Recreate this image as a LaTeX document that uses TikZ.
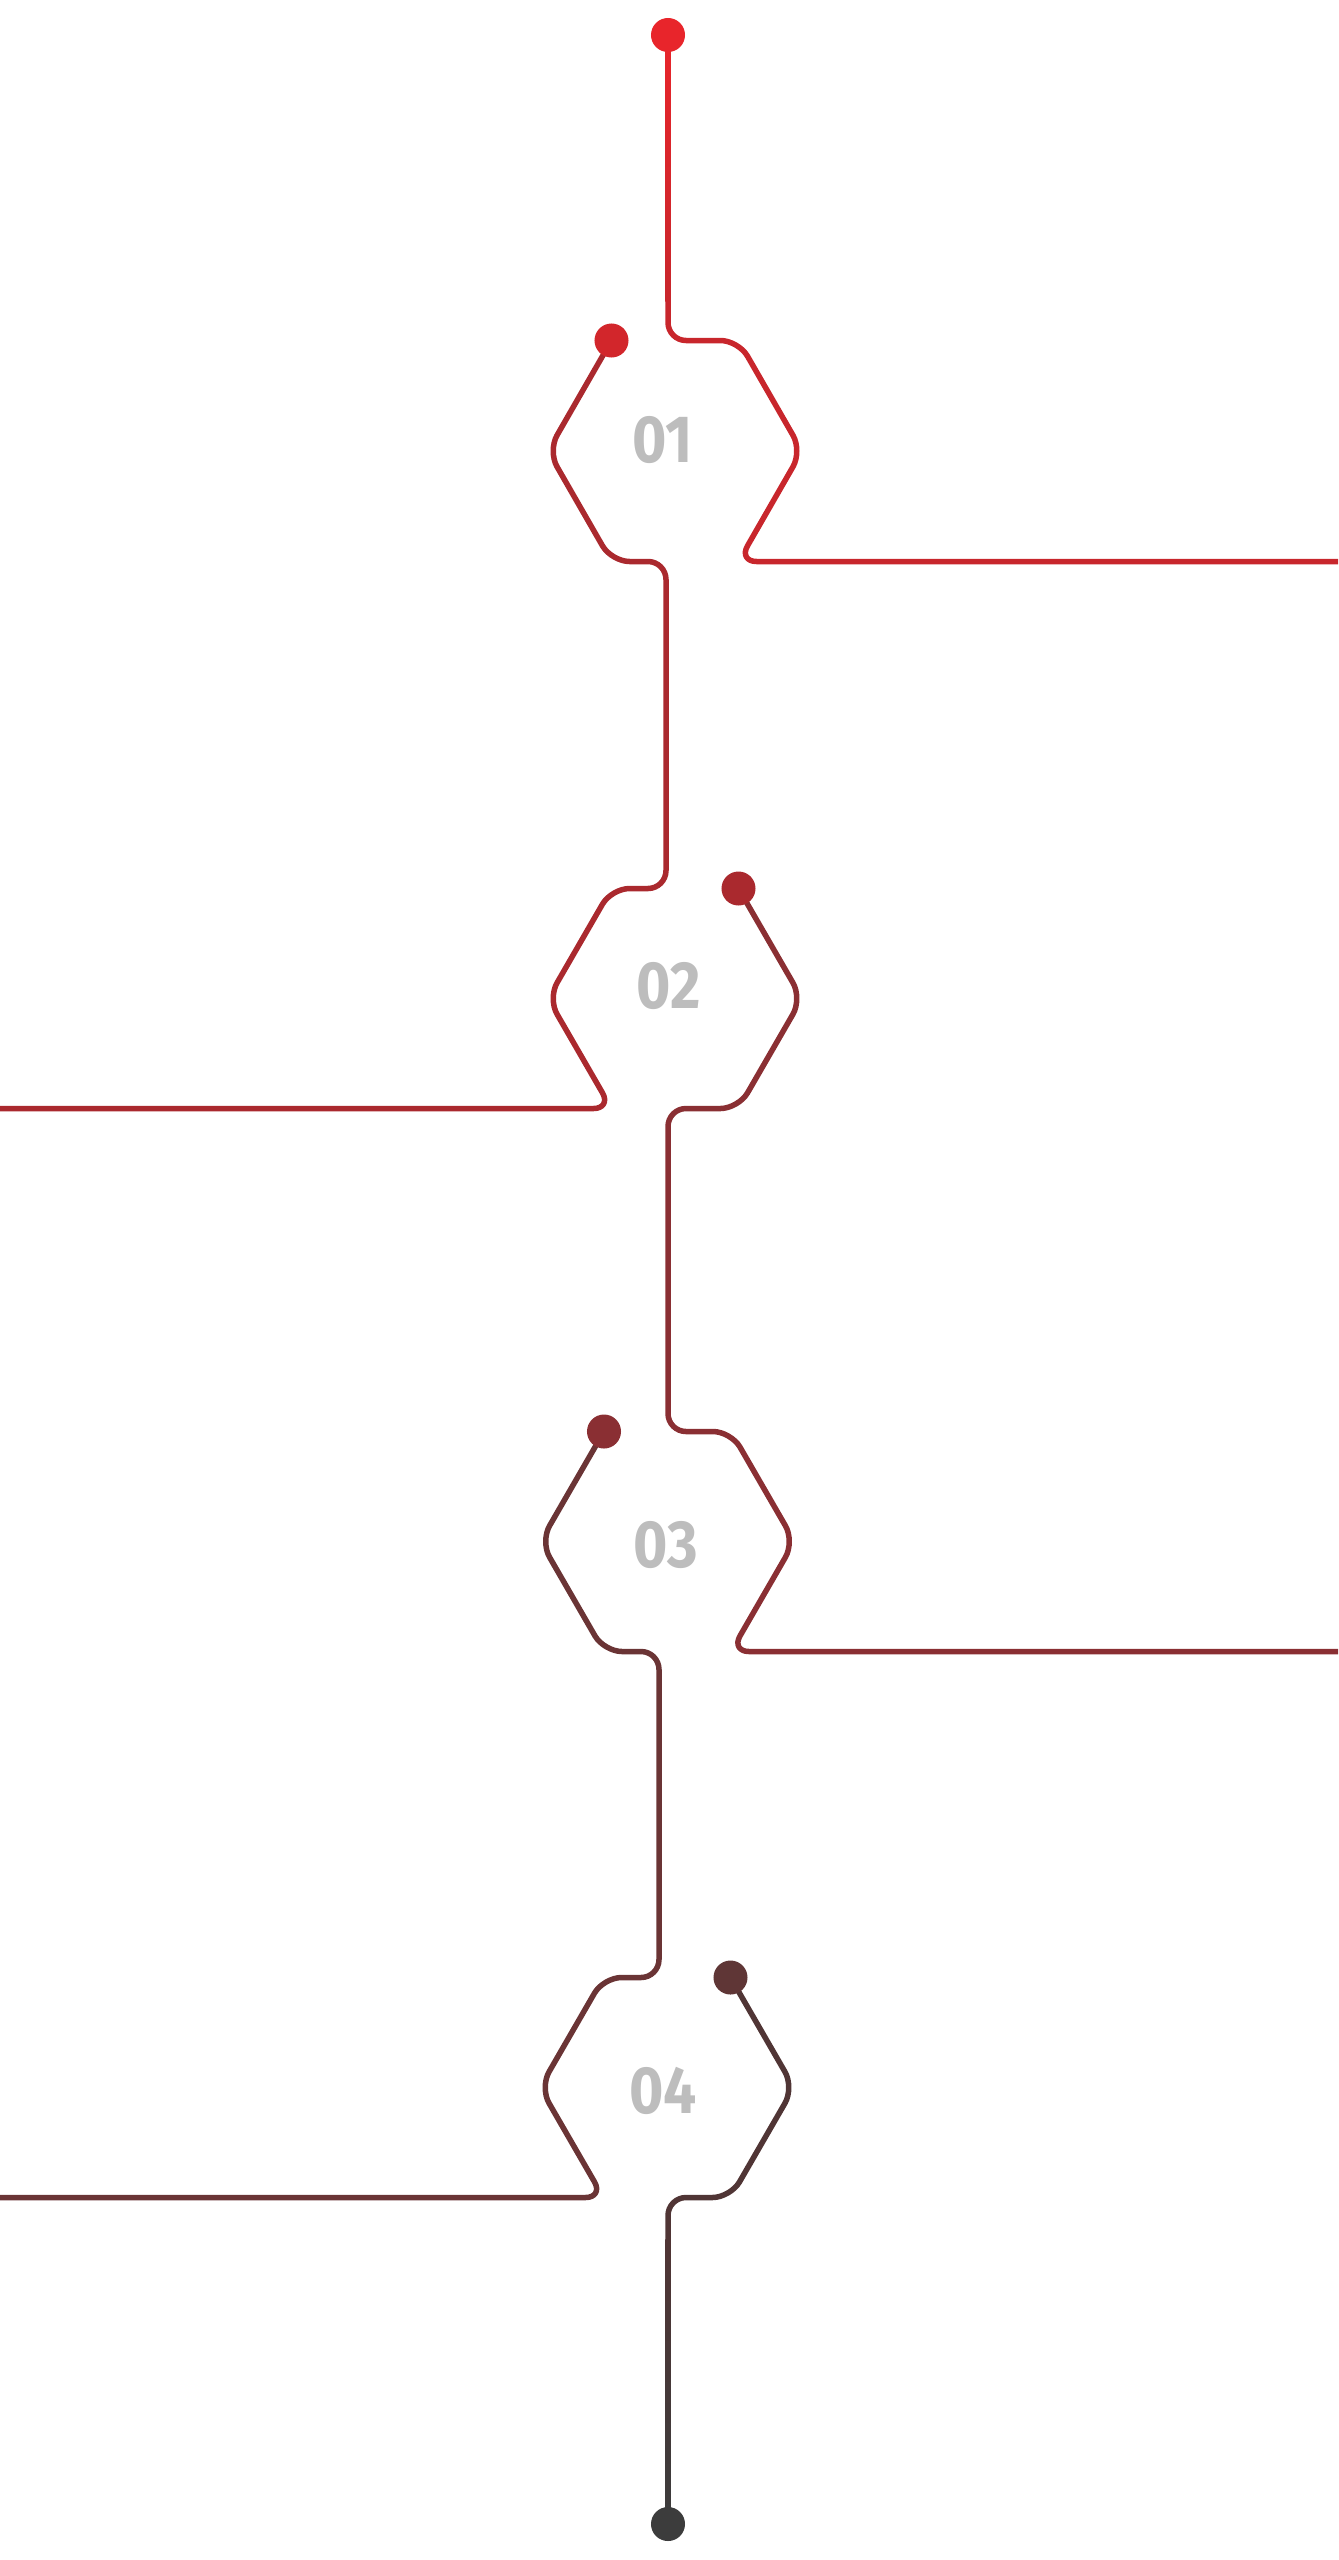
\documentclass[tikz,border=0pt]{standalone}
\usepackage{fontspec}
\newfontfamily\numfont{Fira Sans}[FakeStretch=0.88]
\usetikzlibrary{calc}
\definecolor{redA}{HTML}{E8252B}
\definecolor{redB}{HTML}{C8262C}
\definecolor{redC}{HTML}{AA292E}
\definecolor{redD}{HTML}{8A2F33}
\definecolor{redE}{HTML}{6A3435}
\definecolor{redF}{HTML}{503535}
\definecolor{greyG}{HTML}{3C3C3C}
\definecolor{pinB}{HTML}{D2262B}
\definecolor{pinE}{HTML}{5F3636}
\definecolor{numgrey}{HTML}{BDBDBD}
\tikzset{
  trace/.style={line width=0.055cm, rounded corners=0.18cm, line join=round},
  num/.style={font=\numfont\bfseries\fontsize{19}{19}\selectfont, text=numgrey, inner sep=0pt}
}

\begin{document}
\begin{tikzpicture}[x=0.01cm, y=-0.01cm]
\useasboundingbox (0,0) rectangle (1338,2560);
% pins and free ends
\coordinate (p0) at (668,35);
\coordinate (p1) at (611.5,340.5);
\coordinate (p2) at (738.5,888.5);
\coordinate (p3) at (604,1431.5);
\coordinate (p4) at (730.5,1977.5);
\coordinate (p5) at (668,2524);
\coordinate (e1) at (1338,561.5);
\coordinate (e2) at (0,1108.5);
\coordinate (e3) at (1338,1651.5);
\coordinate (e4) at (0,2197.5);

% traces
\shade[top color=redA, bottom color=redB] (665.25,35) rectangle (670.75,301);
\draw[trace, redB] (668,300) -- (668,340.5) -- (738.5,340.5) -- (802,451) -- (738.5,561.5) -- (e1);
\draw[trace, redC] (p1) -- (548,451) -- (611.5,561.5) -- (666,561.5) -- (666,888.5)
  -- (611.5,888.5) -- (548,998.5) -- (611.5,1108.5) -- (e2);
\draw[trace, redD] (p2) -- (802,998.5) -- (738.5,1108.5) -- (668,1108.5) -- (668,1431.5)
  -- (731,1431.5) -- (794.5,1541.5) -- (731,1651.5) -- (e3);
\draw[trace, redE] (p3) -- (540.5,1541.5) -- (604,1651.5) -- (659,1651.5) -- (659,1977.5)
  -- (603.5,1977.5) -- (540,2087.5) -- (603.5,2197.5) -- (e4);
\draw[trace, redF] (p4) -- (794,2087.5) -- (730.5,2197.5) -- (668,2197.5) -- (668,2240);
\shade[top color=redF, bottom color=greyG] (665.25,2239) rectangle (670.75,2524);

% dots
\fill[redA] (p0) circle (0.17cm);
\fill[pinB] (p1) circle (0.17cm);
\fill[redC] (p2) circle (0.17cm);
\fill[redD] (p3) circle (0.17cm);
\fill[pinE] (p4) circle (0.17cm);
\fill[greyG] (p5) circle (0.17cm);

% numbers
\node[num] (n1) at (663,440) {01};
\node[num] (n2) at (669,986) {02};
\node[num] (n3) at (666,1545) {03};
\node[num] (n4) at (663,2091) {04};
\end{tikzpicture}
\end{document}
